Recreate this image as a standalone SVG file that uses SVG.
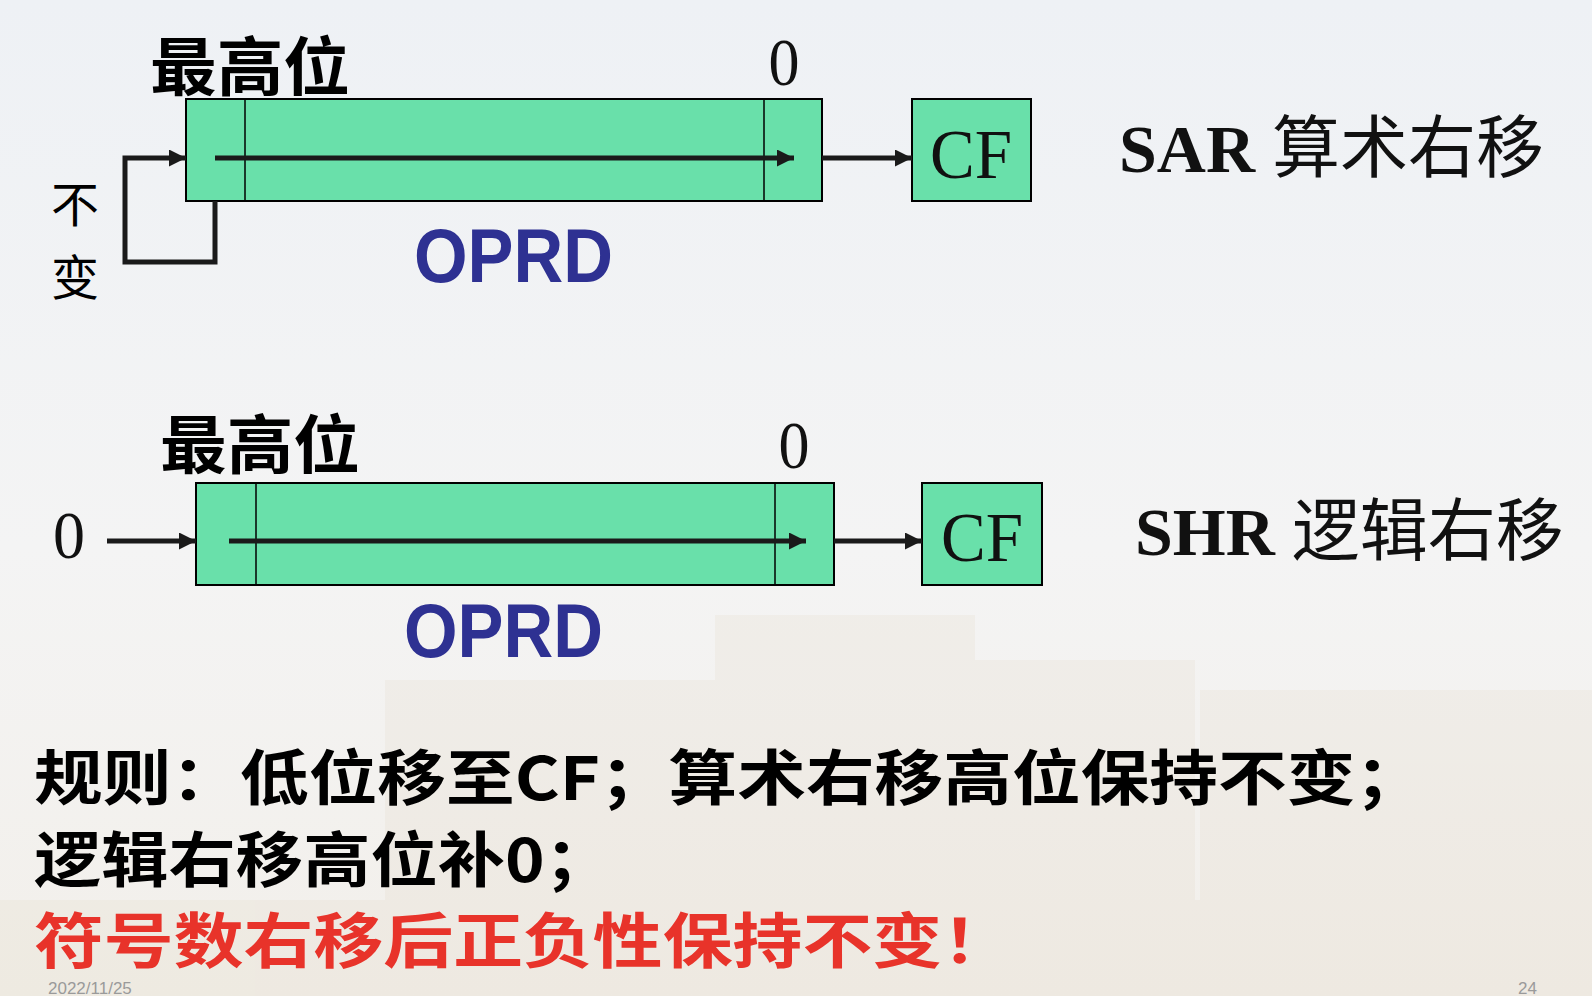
<svg xmlns="http://www.w3.org/2000/svg" width="1592" height="996" viewBox="0 0 1592 996">
<defs>
<linearGradient id="bg" x1="0" y1="0" x2="0" y2="1">
<stop offset="0" stop-color="#eef1f5"/>
<stop offset="0.55" stop-color="#f4f4f4"/>
<stop offset="1" stop-color="#f2efea"/>
</linearGradient>
<marker id="ah" viewBox="0 0 10 10" refX="10" refY="5" markerWidth="3.6" markerHeight="3.4" markerUnits="strokeWidth" orient="auto">
<path d="M0,0 L10,5 L0,10 Z" fill="#1a1a1a"/>
</marker>
<style>
.reg{fill:#69e0aa;stroke:#000;stroke-width:2}
.div{stroke:#000;stroke-width:1.5}
.arr{stroke:#1a1a1a;stroke-width:5;fill:none;marker-end:url(#ah)}
.cjk{font-family:"Noto Sans CJK SC",sans-serif;fill:#000}
.tnr{font-family:"Liberation Serif",serif;fill:#111}
.oprd{font-family:"Liberation Sans",sans-serif;font-weight:700;fill:#2e3192}
.rule{font-family:"Noto Sans CJK SC",sans-serif;font-weight:700;font-size:60px}
.foot{font-family:"Liberation Sans",sans-serif;font-size:17px;fill:#9a9a9a}
</style>
</defs>
<rect width="1592" height="996" fill="url(#bg)"/>
<g opacity="0.07" fill="#c9a878">
<rect x="715" y="615" width="260" height="300"/>
<rect x="385" y="680" width="330" height="240"/>
<rect x="975" y="660" width="220" height="260"/>
<rect x="1200" y="690" width="392" height="230"/>
<rect x="0" y="900" width="1592" height="96"/>
</g>

<g id="sar">
<g id="sar-reg">
<rect class="reg" x="186" y="99" width="636" height="102"/>
<line class="div" x1="245" y1="99" x2="245" y2="201"/>
<line class="div" x1="764" y1="99" x2="764" y2="201"/>
</g>
<text class="cjk" x="150" y="90" font-size="64" font-weight="700" textLength="200" lengthAdjust="spacingAndGlyphs">最高位</text>
<text class="tnr" x="784" y="85" font-size="68" text-anchor="middle" textLength="31" lengthAdjust="spacingAndGlyphs">0</text>
<text class="cjk" x="75" y="222" font-size="48" text-anchor="middle">不</text>
<text class="cjk" x="75" y="295" font-size="48" text-anchor="middle">变</text>
<text class="oprd" x="414" y="282" font-size="76" textLength="199" lengthAdjust="spacingAndGlyphs">OPRD</text>
<g id="sar-cf">
<rect class="reg" x="912" y="99" width="119" height="102"/>
<text class="tnr" x="971" y="178" font-size="70" text-anchor="middle" textLength="82" lengthAdjust="spacingAndGlyphs">CF</text>
</g>
<text x="1119" y="172" font-size="68"><tspan font-family="Liberation Serif,serif" font-weight="700" fill="#111">SAR </tspan><tspan font-family="Noto Sans CJK SC,sans-serif" fill="#111">算术右移</tspan></text>
</g>

<g id="shr">
<g id="shr-reg">
<rect class="reg" x="196" y="483" width="638" height="102"/>
<line class="div" x1="256" y1="483" x2="256" y2="585"/>
<line class="div" x1="775" y1="483" x2="775" y2="585"/>
</g>
<text class="cjk" x="160" y="468" font-size="64" font-weight="700" textLength="200" lengthAdjust="spacingAndGlyphs">最高位</text>
<text class="tnr" x="794" y="468" font-size="68" text-anchor="middle" textLength="31" lengthAdjust="spacingAndGlyphs">0</text>
<text class="tnr" x="69" y="558" font-size="68" text-anchor="middle" textLength="32" lengthAdjust="spacingAndGlyphs">0</text>
<text class="oprd" x="404" y="657" font-size="76" textLength="199" lengthAdjust="spacingAndGlyphs">OPRD</text>
<g id="shr-cf">
<rect class="reg" x="922" y="483" width="120" height="102"/>
<text class="tnr" x="982" y="561" font-size="70" text-anchor="middle" textLength="82" lengthAdjust="spacingAndGlyphs">CF</text>
</g>
<text x="1135" y="555" font-size="68"><tspan font-family="Liberation Serif,serif" font-weight="700" fill="#111">SHR </tspan><tspan font-family="Noto Sans CJK SC,sans-serif" fill="#111">逻辑右移</tspan></text>
</g>

<g id="connectors">
<path class="arr" d="M215,158 L794,158"/>
<path class="arr" d="M822,158 L912,158"/>
<path class="arr" d="M215,201 L215,262 L125,262 L125,158 L186,158"/>
<path class="arr" d="M229,541 L806,541"/>
<path class="arr" d="M107,541 L196,541"/>
<path class="arr" d="M834,541 L922,541"/>
</g>

<g id="rules">
<text class="rule" x="34" y="800" fill="#000" textLength="1390" lengthAdjust="spacingAndGlyphs">规则：低位移至CF；算术右移高位保持不变；</text>
<text class="rule" x="34" y="882" fill="#000" textLength="578" lengthAdjust="spacingAndGlyphs">逻辑右移高位补0；</text>
<text class="rule" x="34" y="963" fill="#e8332a" textLength="978" lengthAdjust="spacingAndGlyphs">符号数右移后正负性保持不变！</text>
</g>
<text class="foot" x="48" y="994">2022/11/25</text>
<text class="foot" x="1518" y="994">24</text>
</svg>
